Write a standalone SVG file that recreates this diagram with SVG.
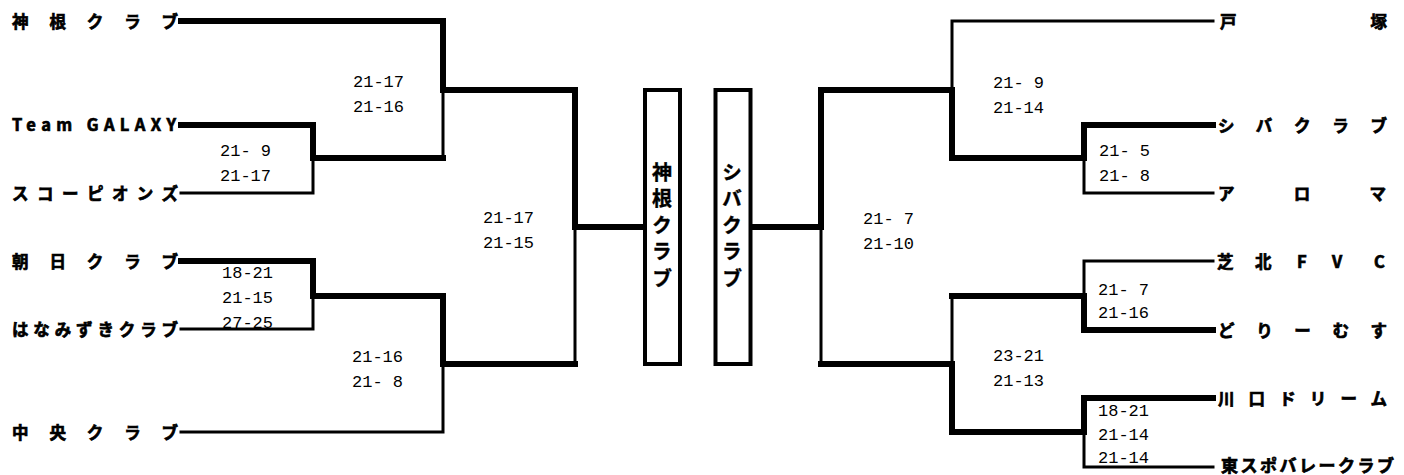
<svg xmlns="http://www.w3.org/2000/svg" width="1404" height="475" viewBox="0 0 1404 475">
<style>
.nm{font-family:"Noto Sans CJK JP","Noto Sans",sans-serif;font-weight:bold;font-size:16.5px;fill:#000;stroke:#000;stroke-width:0.7px}
.sc{font-family:"Liberation Mono","DejaVu Sans Mono",monospace;font-size:17px;fill:#000}
.bx{font-family:"Noto Sans CJK JP",sans-serif;font-weight:bold;font-size:20px;fill:#000;writing-mode:vertical-rl;letter-spacing:6.5px;stroke:#000;stroke-width:0.4px}
.tk{stroke:#000;stroke-width:6;fill:none;stroke-linecap:square}
.tn{stroke:#000;stroke-width:3;fill:none;stroke-linecap:square}
.box{stroke:#000;stroke-width:4;fill:#fff}
</style>
<rect width="1404" height="475" fill="#fff"/>
<g id="connectors">
<path class="tn" d="M443 90V158M313 158V193M181 193H313M313 296V329M181 329H313M443 364V432M181 432H443M575 227V364"/>
<path class="tk" d="M181 21H443V90H575V227H645M181 125H313V158H443M181 261H313V296H443V364H575"/>
<path class="tn" d="M821 227V364M952 90V21H1213M1084 158V193H1213M952 296V364M1084 261H1213M1084 261V296M1084 432V467H1213"/>
<path class="tk" d="M751 227H821V90H952V158H1084V125H1213M821 364H952V432H1084V398H1213M952 296H1084V330H1213"/>
</g>
<g id="team-l1"><text class="nm" x="12" y="28" textLength="166" lengthAdjust="spacing">神根クラブ</text></g>
<g id="team-l2"><text class="nm" x="12" y="131" textLength="164" lengthAdjust="spacing">Team GALAXY</text></g>
<g id="team-l3"><text class="nm" x="12" y="200" textLength="166" lengthAdjust="spacing">スコーピオンズ</text></g>
<g id="team-l4"><text class="nm" x="12" y="268" textLength="166" lengthAdjust="spacing">朝日クラブ</text></g>
<g id="team-l5"><text class="nm" x="12" y="336" textLength="166" lengthAdjust="spacing">はなみずきクラブ</text></g>
<g id="team-l6"><text class="nm" x="12" y="439" textLength="166" lengthAdjust="spacing">中央クラブ</text></g>
<g id="team-r1"><text class="nm" x="1220" y="28" textLength="167" lengthAdjust="spacing">戸塚</text></g>
<g id="team-r2"><text class="nm" x="1218" y="132" textLength="169" lengthAdjust="spacing">シバクラブ</text></g>
<g id="team-r3"><text class="nm" x="1218" y="200" textLength="168" lengthAdjust="spacing">アロマ</text></g>
<g id="team-r4"><text class="nm" x="1217 1255 1297 1332 1374" y="268">芝北FVC</text></g>
<g id="team-r5"><text class="nm" x="1218" y="337" textLength="169" lengthAdjust="spacing">どりーむす</text></g>
<g id="team-r6"><text class="nm" x="1218" y="405" textLength="169" lengthAdjust="spacing">川口ドリーム</text></g>
<g id="team-r7"><text class="nm" x="1221" y="472" textLength="173" lengthAdjust="spacing" style="font-size:17px">東スポバレークラブ</text></g>
<g id="winner-left">
<rect class="box" x="645" y="90" width="35" height="274"/>
<text class="bx" x="662" y="162">神根クラブ</text>
</g>
<g id="winner-right">
<rect class="box" x="715.5" y="90" width="35" height="274"/>
<text class="bx" x="732" y="162">シバクラブ</text>
</g>
<g id="scores">
<text class="sc" x="353" y="87">21-17</text><text class="sc" x="353" y="112">21-16</text>
<text class="sc" x="220" y="156">21- 9</text><text class="sc" x="220" y="181">21-17</text>
<text class="sc" x="222" y="278">18-21</text><text class="sc" x="222" y="303">21-15</text><text class="sc" x="222" y="328">27-25</text>
<text class="sc" x="352" y="362">21-16</text><text class="sc" x="352" y="387">21- 8</text>
<text class="sc" x="483" y="223">21-17</text><text class="sc" x="483" y="248">21-15</text>
<text class="sc" x="863" y="224">21- 7</text><text class="sc" x="863" y="249">21-10</text>
<text class="sc" x="993" y="88">21- 9</text><text class="sc" x="993" y="113">21-14</text>
<text class="sc" x="1099" y="156">21- 5</text><text class="sc" x="1099" y="181">21- 8</text>
<text class="sc" x="1098" y="295">21- 7</text><text class="sc" x="1098" y="318">21-16</text>
<text class="sc" x="993" y="361">23-21</text><text class="sc" x="993" y="386">21-13</text>
<text class="sc" x="1098" y="416">18-21</text><text class="sc" x="1098" y="440">21-14</text><text class="sc" x="1098" y="463">21-14</text>
</g>
</svg>
